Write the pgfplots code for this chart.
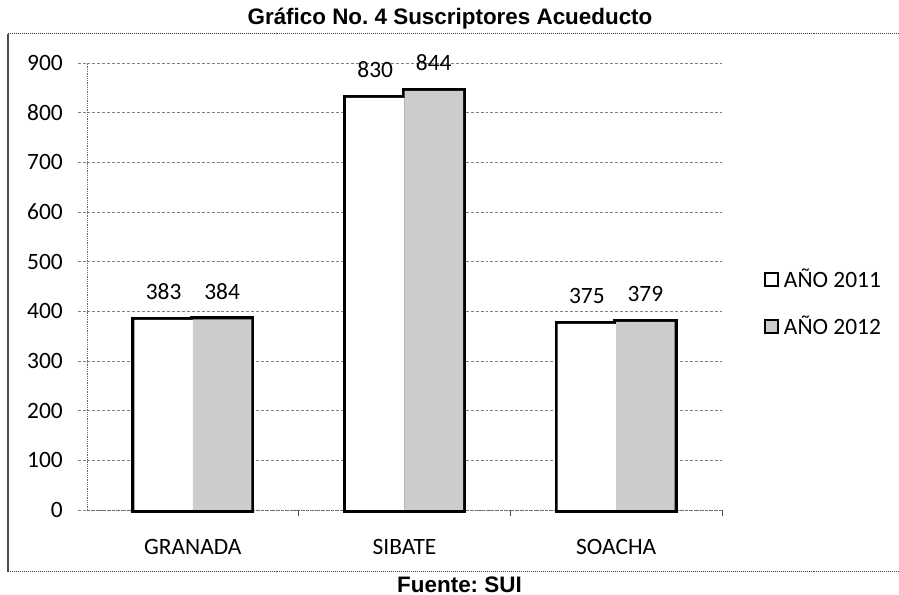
\documentclass[border=0pt]{standalone}
\usepackage{fontspec}
\setmainfont{Carlito}
\newfontfamily\arialfont{Liberation Sans}
\usepackage{pgfplots}
\pgfplotsset{compat=1.18}
\newcommand{\lblfont}{\fontsize{23.5}{23.5}\selectfont}
\frenchspacing
\begin{document}
\begin{tikzpicture}
\useasboundingbox (0bp,0bp) rectangle (899bp,595bp);
\fill[white] (0bp,0bp) rectangle (899bp,595bp);
% outer frame
\draw[black!70, line width=1.6bp] (8bp,23bp) -- (8bp,561bp);
\draw[black!75, line width=1bp, densely dotted] (8bp,561bp) -- (899bp,561bp);
\draw[black!75, line width=1bp, densely dotted] (8bp,23bp) -- (899bp,23bp);
\begin{axis}[
  at={(87bp,85bp)}, anchor=south west,
  scale only axis, width=635bp, height=447bp,
  xmin=-0.5, xmax=2.5, ymin=0, ymax=900,
  clip=false,
  ybar, bar width=58.5bp,
  axis lines=left,
  axis line style={-, black!60, densely dotted, line width=0.8bp},
  ytick={0,100,...,900},
  ymajorgrids,
  major grid style={densely dashed, black!50, line width=0.7bp},
  ytick align=outside,
  ytick style={draw=black!50, densely dashed, line width=0.7bp},
  major tick length=9bp,
  xtick={0,1,2},
  xticklabels={GRANADA,SIBATE,SOACHA},
  xtick style={draw=none},
  extra x ticks={0.5,1.5,2.5},
  extra x tick labels={},
  extra x tick style={xtick style={draw=black!70, solid, line width=0.8bp}, major tick length=6bp, tick align=outside},
  tick label style={font=\lblfont},
  /pgf/number format/assume math mode=true,
  yticklabel style={anchor=east, inner sep=0pt, xshift=-15bp},
  xticklabel style={anchor=base, inner sep=0pt, yshift=-40bp},
  nodes near coords style={font=\lblfont, anchor=south, inner sep=0pt, yshift=17bp, black},
  legend style={at={(1.0661,0.4638)}, anchor=west, draw=none, fill=none,
    inner sep=0pt, row sep=27bp, font=\lblfont, nodes={inner sep=0pt},
    /tikz/every odd column/.append style={column sep=5bp}},
  legend cell align=left,
  legend image code/.code={\draw[#1, draw=black, line width=1.8bp] (0bp,-6.5bp) rectangle (13bp,6.5bp);},
]
\addplot[bar shift=-29.25bp, fill=white, draw=black, line width=6bp, nodes near coords]
  coordinates {(0,383) (1,830) (2,375)};
\addlegendentry{AÑO 2011}
\addplot[bar shift=29.25bp, fill=black!20, draw=black, line width=6bp, nodes near coords]
  coordinates {(0,384) (1,844) (2,379)};
\addlegendentry{AÑO 2012}
\addplot[bar shift=-29.25bp, fill=white, draw=none, forget plot]
  coordinates {(0,383) (1,830) (2,375)};
\addplot[bar shift=29.25bp, fill=black!20, draw=none, forget plot]
  coordinates {(0,384) (1,844) (2,379)};
\end{axis}
\node[font=\arialfont\fontsize{22.5}{22.5}\selectfont\bfseries, anchor=base] at (450bp,570bp) {Gráfico No. 4 Suscriptores Acueducto};
\node[font=\arialfont\fontsize{22.5}{22.5}\selectfont\bfseries, anchor=base] at (459.5bp,3bp) {Fuente: SUI};
\end{tikzpicture}
\end{document}
